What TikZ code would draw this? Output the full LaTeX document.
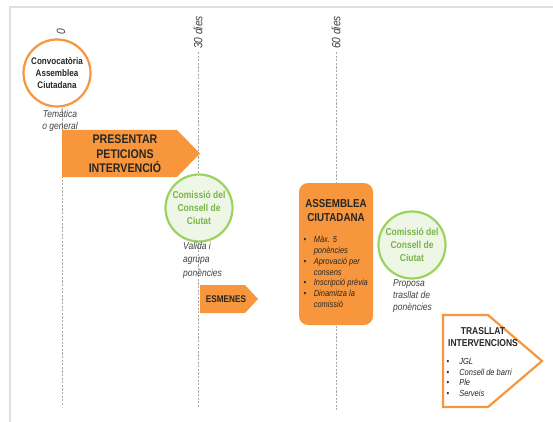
\documentclass[tikz,border=0pt]{standalone}
\usepackage{fontspec}
\setmainfont{Liberation Sans}[FakeStretch=0.85]
\definecolor{orng}{HTML}{F7963C}
\definecolor{grnb}{HTML}{9CD35E}
\definecolor{grnt}{HTML}{78B548}
\definecolor{grnf}{HTML}{EEF6E6}
\definecolor{txt}{HTML}{262626}
\definecolor{notec}{HTML}{404040}
\definecolor{dashc}{HTML}{A8A8A8}
\begin{document}
\begin{tikzpicture}[x=1pt,y=-1pt,
  timeline/.style={draw=dashc, dash pattern=on 2.2pt off 1.4pt, line width=0.9pt},
  daylabel/.style={rotate=90, font=\fontsize{12}{13}\selectfont\itshape, text=notec, inner sep=0},
  orcircle/.style={circle, draw=orng, line width=2.2pt, fill=white, minimum size=67pt, inner sep=0, align=center, font=\fontsize{9.5}{12}\selectfont\bfseries, text=txt},
  grcircle/.style={circle, draw=grnb, line width=2.2pt, fill=grnf, minimum size=67pt, inner sep=0, align=center, font=\fontsize{10}{13}\selectfont\bfseries, text=grnt},
  note/.style={align=left, font=\fontsize{10}{12.5}\selectfont\itshape, text=notec, inner sep=0},
  arrowshape/.style={fill=orng, draw=none},
  arrowtext/.style={align=center, font=\fontsize{12.5}{14.5}\selectfont\bfseries, text=txt, inner sep=0},
  smalltitle/.style={align=center, font=\fontsize{10}{12}\selectfont\bfseries, text=txt, inner sep=0},
  bulletlist/.style={align=left, font=\fontsize{8.8}{10.8}\selectfont\itshape, text=txt, inner sep=0, anchor=north west}
]
\useasboundingbox (0,0) rectangle (553,422);
% card shadow
\draw[gray!25, line width=1.6pt] (10,422) -- (10,7) -- (553,7);
% timelines
\coordinate (t0a) at (62,50);
\coordinate (t0b) at (62,405);
\coordinate (t30a) at (198,52);
\coordinate (t30b) at (198,408);
\coordinate (t60a) at (336,52);
\coordinate (t60b) at (336,410);
\draw[timeline] (t0a) -- (t0b);
\draw[timeline] (t30a) -- (t30b);
\draw[timeline] (t60a) -- (t60b);
\node[daylabel] (l0) at (61,32) {0};
\node[daylabel] (l30) at (198,32.5) {30 dies};
\node[daylabel] (l60) at (336,32.5) {60 dies};
% convocatoria
\node[orcircle] (conv) at (57,73) {Convocatòria\\Assemblea\\Ciutadana};
\node[note, align=center] (tema) at (60,121) {Temàtica\\o general};
% presentar
\path[arrowshape] (62,130) -- (177,130) -- (200,153.5) -- (177,177) -- (62,177) -- cycle;
\node[arrowtext] (pres) at (125,154) {PRESENTAR\\PETICIONS\\INTERVENCIÓ};
% comissio 1
\node[grcircle] (com1) at (199,208) {Comissió del\\Consell de\\Ciutat};
\node[note, anchor=north west, font=\fontsize{10}{13.5}\selectfont\itshape] (valida) at (183,242) {Valida i\\agrupa\\ponències};
% esmenes
\path[arrowshape] (200,285) -- (245,285) -- (258,299) -- (245,313) -- (200,313) -- cycle;
\node[smalltitle, font=\fontsize{9.7}{11}\selectfont\bfseries] (esm) at (226,299.5) {ESMENES};
% assemblea
\path[fill=orng, rounded corners=9pt] (299,183) rectangle (373,325);
\node[align=center, font=\fontsize{11.5}{14.5}\selectfont\bfseries, text=txt, inner sep=0] (asstit) at (336,210.5) {ASSEMBLEA\\CIUTADANA};
\node[bulletlist] (asslist) at (303.5,235) {\begin{tabular}{@{}l@{\hspace{7.5pt}}l@{}}
\textbullet & Màx. 5\\
 & ponències\\
\textbullet & Aprovació per\\
 & consens\\
\textbullet & Inscripció prèvia\\
\textbullet & Dinamitza la\\
 & comissió
\end{tabular}};
% comissio 2
\node[grcircle] (com2) at (412,245) {Comissió del\\Consell de\\Ciutat};
\node[note, anchor=north west, font=\fontsize{10}{12}\selectfont\itshape] (proposa) at (393,279) {Proposa\\trasllat de\\ponències};
% trasllat
\path[draw=orng, line width=2.2pt, fill=white, line join=miter] (443,315) -- (488,315) -- (542,361) -- (488,407) -- (443,407) -- cycle;
\node[smalltitle] (tras) at (483,337.5) {TRASLLAT\\INTERVENCIONS};
\node[bulletlist] (traslist) at (446.5,356.5) {\begin{tabular}{@{}l@{\hspace{10pt}}l@{}}
\textbullet & JGL\\
\textbullet & Consell de barri\\
\textbullet & Ple\\
\textbullet & Serveis
\end{tabular}};
\end{tikzpicture}
\end{document}
